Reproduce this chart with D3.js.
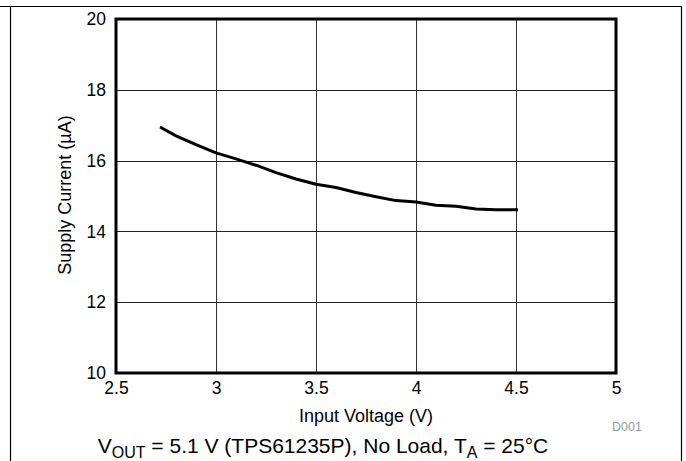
<!DOCTYPE html>
<html>
<head>
<meta charset="utf-8">
<script src="https://cdn.jsdelivr.net/npm/d3@7"></script>
<style>
body { margin: 0; background: #fff; }
text { font-family: Arial, "Liberation Sans", sans-serif; }
</style>
</head>
<body>
<svg id="chart" width="686" height="461"></svg>
<script>
// input voltage (V) and supply current (uA)
var vin = [2.72, 2.8, 2.9, 3.0, 3.1, 3.2, 3.3, 3.4, 3.5, 3.6, 3.7, 3.8, 3.9, 4.0, 4.1, 4.2, 4.3, 4.4, 4.51];
var current = [16.95, 16.70, 16.45, 16.22, 16.05, 15.87, 15.66, 15.48, 15.33, 15.24, 15.10, 14.98, 14.87, 14.83, 14.74, 14.71, 14.63, 14.61, 14.61];
var xTicks = [2.5, 3, 3.5, 4, 4.5, 5];
var yTicks = [10, 12, 14, 16, 18, 20];

var svg = d3.select("#chart");

// plot box (window.top is reserved, so own names)
var plotL = 116, plotR = 616, plotT = 19, plotB = 373;

var x = d3.scaleLinear().domain([2.5, 5]).range([plotL, plotR]);
var y = d3.scaleLinear().domain([10, 20]).range([plotB, plotT]);

// outer frame
svg.append("line").attr("x1", 0).attr("x2", 682).attr("y1", 6.5).attr("y2", 6.5)
	.attr("stroke", "#000").attr("stroke-width", 1.2);
svg.append("line").attr("x1", 10.5).attr("x2", 10.5).attr("y1", 6).attr("y2", 461)
	.attr("stroke", "#000").attr("stroke-width", 1.2);
svg.append("line").attr("x1", 681.5).attr("x2", 681.5).attr("y1", 6).attr("y2", 461)
	.attr("stroke", "#000").attr("stroke-width", 1.2);

// grid
var grid = svg.append("g");
grid.selectAll(".vg").data(xTicks.slice(1, -1)).enter().append("line")
	.attr("x1", function(d) { return Math.round(x(d)) + 0.5; })
	.attr("x2", function(d) { return Math.round(x(d)) + 0.5; })
	.attr("y1", plotT).attr("y2", plotB)
	.attr("stroke", "#333").attr("stroke-width", 1);
grid.selectAll(".hg").data(yTicks.slice(1, -1)).enter().append("line")
	.attr("y1", function(d) { return Math.round(y(d)) + 0.5; })
	.attr("y2", function(d) { return Math.round(y(d)) + 0.5; })
	.attr("x1", plotL).attr("x2", plotR)
	.attr("stroke", "#222").attr("stroke-width", 1);

// axes (labels only)
var xAxis = svg.append("g").attr("transform", "translate(0," + plotB + ")")
	.call(d3.axisBottom(x).tickValues(xTicks).tickSize(0).tickPadding(9).tickFormat(d3.format("")));
var yAxis = svg.append("g").attr("transform", "translate(" + plotL + ",0)")
	.call(d3.axisLeft(y).tickValues(yTicks).tickSize(0).tickPadding(10));
[xAxis, yAxis].forEach(function(a) {
	a.select(".domain").remove();
	a.selectAll("text").attr("font-size", 17.5).attr("fill", "#000")
		.style("font-family", "Arial, 'Liberation Sans', sans-serif");
});

// curve
var line = d3.line()
	.x(function(d, i) { return x(vin[i]); })
	.y(function(d) { return y(d); });
svg.append("path").datum(current)
	.attr("d", line)
	.attr("fill", "none")
	.attr("stroke", "#000")
	.attr("stroke-width", 3)
	.attr("stroke-linejoin", "round");

// plot border
svg.append("rect").attr("x", plotL).attr("y", plotT)
	.attr("width", plotR - plotL).attr("height", plotB - plotT)
	.attr("fill", "none").attr("stroke", "#000").attr("stroke-width", 3);

// axis titles
svg.append("text").attr("x", 366).attr("y", 422).attr("text-anchor", "middle")
	.attr("font-size", 18).text("Input Voltage (V)");
svg.append("text").attr("transform", "translate(71,195) rotate(-90)")
	.attr("text-anchor", "middle").attr("font-size", 18).text("Supply Current (µA)");

svg.append("text").attr("x", 627).attr("y", 431).attr("text-anchor", "middle")
	.attr("font-size", 12.5).attr("fill", "#999").text("D001");

// caption
var cap = svg.append("text").attr("x", 323).attr("y", 453).attr("text-anchor", "middle")
	.attr("font-size", 21);
cap.append("tspan").text("V");
cap.append("tspan").attr("font-size", 16).attr("dy", 5).text("OUT");
cap.append("tspan").attr("dy", -5).text(" = 5.1 V (TPS61235P), No Load, T");
cap.append("tspan").attr("font-size", 16).attr("dy", 5).text("A");
cap.append("tspan").attr("dy", -5).text(" = 25°C");
</script>
</body>
</html>
